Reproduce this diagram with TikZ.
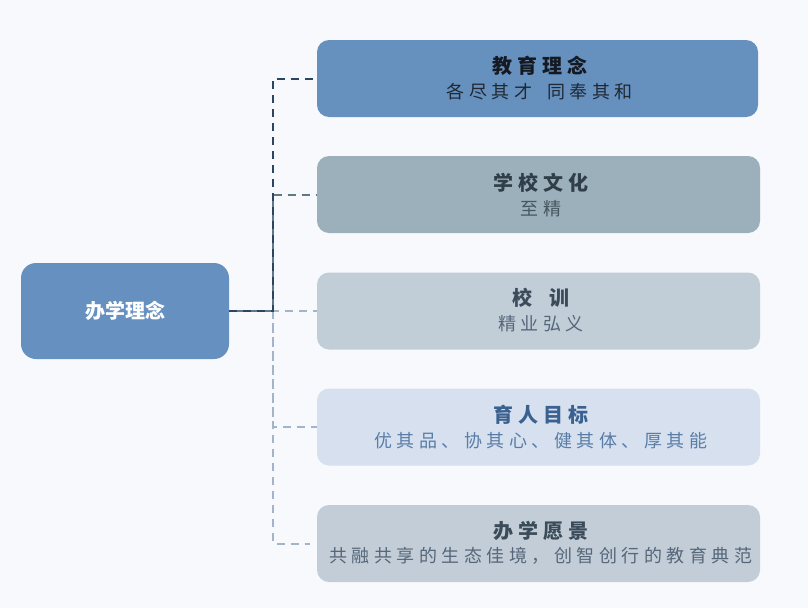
\documentclass[tikz,border=0pt]{standalone}
\usepackage{fontspec}
\newfontfamily\cjk{Noto Sans CJK SC}
\newfontfamily\cjksp[LetterSpace=25]{Noto Sans CJK SC}
\definecolor{bgc}{HTML}{F7F9FC}
\definecolor{rootc}{HTML}{6690BF}
\definecolor{boxa}{HTML}{6691BF}
\definecolor{boxb}{HTML}{9CB0BB}
\definecolor{boxc}{HTML}{C1CED8}
\definecolor{boxd}{HTML}{D6E0EE}
\definecolor{boxe}{HTML}{C2CDD7}
\definecolor{ta}{HTML}{151A22}
\definecolor{sa}{HTML}{1F2833}
\definecolor{tb}{HTML}{2F3E48}
\definecolor{sbb}{HTML}{45565F}
\definecolor{tc}{HTML}{3B4B59}
\definecolor{sc}{HTML}{56677A}
\definecolor{td}{HTML}{3A6190}
\definecolor{sd}{HTML}{5A7DA8}
\definecolor{lnavy}{HTML}{2B4562}
\definecolor{lgray}{HTML}{5F7A87}
\definecolor{llight}{HTML}{A2B5C8}
\tikzset{
  card/.style={rounded corners=12pt, minimum width=443pt, minimum height=77pt, inner sep=0pt},
  ttl/.style={inner sep=0pt, font=\cjksp\bfseries\fontsize{20}{24}\selectfont},
  sub/.style={inner sep=0pt, font=\cjksp\fontsize{18}{22}\selectfont},
  conn/.style={line width=2pt, dash pattern=on 8pt off 6pt},
}
\newcommand{\trk}{\kern-0.25em}
\begin{document}
\begin{tikzpicture}[x=1pt,y=-1pt]
\useasboundingbox (0,0) rectangle (808,608);
\fill[bgc] (0,0) rectangle (808,608);
\node[fill=rootc, rounded corners=15pt, minimum width=208pt, minimum height=96pt, inner sep=0pt,
  text=white, font=\cjk\bfseries\fontsize{20}{24}\selectfont] (root) at (125,311) {办学理念};
\node[card, fill=boxa, minimum width=441pt] (b1) at (537.5,78.5) {};
\node[card, fill=boxb] (b2) at (538.5,194.5) {};
\node[card, fill=boxc] (b3) at (538.5,311) {};
\node[card, fill=boxd] (b4) at (538.5,427) {};
\node[card, fill=boxe] (b5) at (538.5,543.5) {};
\node[ttl, text=ta] (t1) at (537.5,66) {教育理念\trk};
\node[sub, text=sa] (s1) at (537.5,92) {各尽其才\hspace{0.85em}同奉其和\trk};
\node[ttl, text=tb] (t2) at (538.5,183) {学校文化\trk};
\node[sub, text=sbb] (s2) at (538.5,209) {至精\trk};
\node[ttl, text=tc] (t3) at (538.5,298) {校\hspace{0.9em}训\trk};
\node[sub, text=sc] (s3) at (538.5,324) {精业弘义\trk};
\node[ttl, text=td] (t4) at (538.5,415) {育人目标\trk};
\node[sub, text=sd] (s4) at (538.5,441) {优其品、协其心、健其体、厚其能\trk};
\node[ttl, text=tc] (t5) at (538.5,531) {办学愿景\trk};
\node[sub, text=sc] (s5) at (538.5,556) {共融共享的生态佳境，创智创行的教育典范\trk};
\coordinate (j) at (273,311);
\coordinate (e5) at (310,543.5);
\draw[conn, llight] (root.east) -- (j) |- (e5);
\draw[conn, llight] (j) |- (b4.west);
\draw[conn, llight] (root.east) -- (b3.west);
\draw[conn, lgray, dash phase=7pt] (root.east) -- (j) |- (b2.west);
\draw[conn, lnavy] (root.east) -- (j) |- (b1.west);
\end{tikzpicture}
\end{document}
